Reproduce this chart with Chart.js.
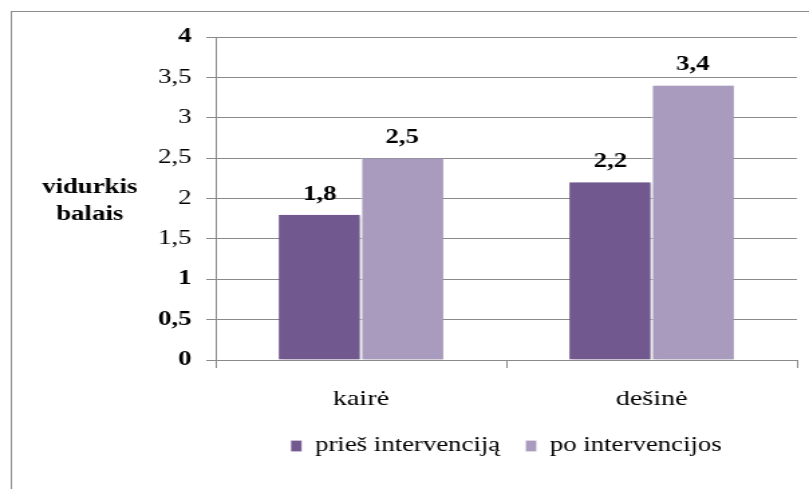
<!DOCTYPE html>
<html>
<head>
<meta charset="utf-8">
<script src="https://cdn.jsdelivr.net/npm/chart.js@4/dist/chart.umd.min.js"></script>
<style>
  html, body { margin: 0; padding: 0; background: #fff; overflow: hidden; }
  #wrap { position: relative; width: 809px; height: 489px; }
</style>
</head>
<body>
<div id="wrap"><canvas id="c" width="604" height="489" style="width:809px;height:489px"></canvas></div>
<script>
const categories = ['kairė', 'dešinė'];
const seriesNames = ['prieš intervenciją', 'po intervencijos'];
const beforeValues = [1.8, 2.2];
const afterValues = [2.5, 3.4];
const yTickLabels = ['0', '0,5', '1', '1,5', '2', '2,5', '3', '3,5', '4'];
const yAxisTitle = ['vidurkis', 'balais'];

const FONT = '"Liberation Serif", "Times New Roman", serif';
const GRID = '#8a8a8a';

const frame = {
  id: 'frame',
  beforeDraw(chart) {
    const c = chart.ctx;
    c.save();
    c.fillStyle = '#fff';
    c.fillRect(0, 0, chart.width, chart.height);
    c.strokeStyle = '#8c8c8c';
    c.lineWidth = 1;
    c.strokeRect(8.5, 11.5, 700, 600);
    c.restore();
  }
};

const yTitle = {
  id: 'yTitle',
  afterDraw(chart) {
    const c = chart.ctx;
    c.save();
    c.font = 'bold 20px ' + FONT;
    c.fillStyle = '#000';
    c.textAlign = 'center';
    c.textBaseline = 'middle';
    c.fillText(yAxisTitle[0], 67, 188);
    c.fillText(yAxisTitle[1], 67, 215);
    c.restore();
  }
};

const barShadow = {
  id: 'barShadow',
  beforeDatasetsDraw(chart) {
    const c = chart.ctx;
    c.save();
    c.shadowColor = 'rgba(0,0,0,0.22)';
    c.shadowBlur = 3;
    c.shadowOffsetX = 1.5;
    c.shadowOffsetY = 1;
  },
  afterDatasetsDraw(chart) {
    chart.ctx.restore();
  }
};

const valueLabels = {
  id: 'valueLabels',
  afterDatasetsDraw(chart) {
    const c = chart.ctx;
    c.save();
    c.font = 'bold 20px ' + FONT;
    c.fillStyle = '#000';
    c.textAlign = 'center';
    c.textBaseline = 'alphabetic';
    chart.data.datasets.forEach((ds, di) => {
      chart.getDatasetMeta(di).data.forEach((bar, i) => {
        c.fillText(String(ds.data[i]).replace('.', ','), bar.x, bar.y - 15);
      });
    });
    c.restore();
  }
};

new Chart(document.getElementById('c'), {
  type: 'bar',
  data: {
    labels: categories,
    datasets: [
      { label: seriesNames[0], data: beforeValues, backgroundColor: '#71588F', borderColor: '#ffffff', borderWidth: {right: 1} },
      { label: seriesNames[1], data: afterValues, backgroundColor: '#A99BBD', borderColor: '#ffffff', borderWidth: {left: 1} }
    ]
  },
  options: {
    responsive: false,
    animation: false,
    devicePixelRatio: 1,
    layout: { padding: { left: 0, right: 9, top: 37, bottom: 23 } },
    datasets: { bar: { categoryPercentage: 0.566, barPercentage: 1.0 } },
    plugins: {
      legend: {
        position: 'bottom',
        fullSize: false,
        labels: {
          font: { family: FONT, size: 20 },
          color: '#000',
          boxWidth: 8,
          boxHeight: 11,
          padding: 19
        }
      },
      tooltip: { enabled: false }
    },
    scales: {
      x: {
        afterFit(scale) { scale.height = 57; },
        grid: { display: true, drawOnChartArea: false, color: GRID, tickLength: 8, offset: true },
        border: { color: GRID },
        ticks: { font: { family: FONT, size: 21 }, color: '#000', padding: 19 }
      },
      y: {
        min: 0, max: 4,
        afterFit(scale) { scale.width = 161; },
        grid: { color: GRID, tickLength: 7 },
        border: { color: GRID },
        ticks: {
          stepSize: 0.5,
          color: '#000',
          padding: 11,
          font: (ctx) => ({ family: FONT, size: 20, weight: [0, 0.5, 1, 4].includes(ctx.tick && ctx.tick.value) ? 'bold' : 'normal' }),
          callback: (v, i) => yTickLabels[i]
        }
      }
    }
  },
  plugins: [frame, yTitle, barShadow, valueLabels]
});
</script>
</body>
</html>
